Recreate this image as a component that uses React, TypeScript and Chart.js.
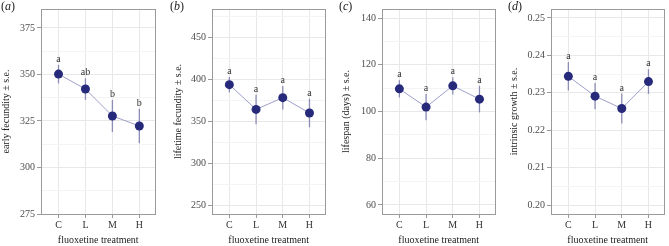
import React, { useEffect, useRef } from 'react';
import { Chart, registerables } from 'chart.js';

Chart.register(...registerables);

const FONT = "'Liberation Serif', 'Times New Roman', serif";

// ---- data ----
const categories = ['C', 'L', 'M', 'H'];

const earlyFecundity = [350.2, 342.2, 327.7, 322.3];
const earlyFecunditySE = [5.0, 5.8, 8.6, 9.3];
const earlyFecundityLetters = ['a', 'ab', 'b', 'b'];
const earlyFecundityTicks = [275, 300, 325, 350, 375];

const lifetimeFecundity = [393.3, 363.8, 377.8, 359.6];
const lifetimeFecunditySE = [9.2, 17.5, 14.0, 17.0];
const lifetimeFecundityLetters = ['a', 'a', 'a', 'a'];
const lifetimeFecundityTicks = [250, 300, 350, 400, 450];

const lifespan = [109.7, 101.9, 111.0, 105.3];
const lifespanSE = [3.7, 5.6, 3.7, 5.7];
const lifespanLetters = ['a', 'a', 'a', 'a'];
const lifespanTicks = [60, 80, 100, 120, 140];

const intrinsicGrowth = [0.2344, 0.2291, 0.2258, 0.2330];
const intrinsicGrowthSE = [0.0038, 0.0035, 0.0040, 0.0033];
const intrinsicGrowthLetters = ['a', 'a', 'a', 'a'];
const intrinsicGrowthTicks = [0.2, 0.21, 0.22, 0.23, 0.24, 0.25];

const xTitle = 'fluoxetine treatment';

type PanelDef = {
  tag: string;
  yTitle: string;
  values: number[];
  se: number[];
  letters: string[];
  ticks: number[];
  decimals: number;
  yMin: number;
  yMax: number;
  left: number;
  width: number;
  axisWidth: number;
  titlePad: number;
  tagLeft: number;
};

const panels: PanelDef[] = [
  {
    tag: 'a', yTitle: 'early fecundity ± s.e.', values: earlyFecundity, se: earlyFecunditySE,
    letters: earlyFecundityLetters, ticks: earlyFecundityTicks, decimals: 0,
    yMin: 275, yMax: 385.2, left: 0, width: 160, axisWidth: 41, titlePad: 0, tagLeft: 1,
  },
  {
    tag: 'b', yTitle: 'lifetime fecundity ± s.e.', values: lifetimeFecundity, se: lifetimeFecunditySE,
    letters: lifetimeFecundityLetters, ticks: lifetimeFecundityTicks, decimals: 0,
    yMin: 239.3, yMax: 483.4, left: 165, width: 165, axisWidth: 47, titlePad: 7, tagLeft: 170,
  },
  {
    tag: 'c', yTitle: 'lifespan (days) ± s.e.', values: lifespan, se: lifespanSE,
    letters: lifespanLetters, ticks: lifespanTicks, decimals: 0,
    yMin: 56.1, yMax: 143.9, left: 332, width: 168, axisWidth: 50, titlePad: 8, tagLeft: 339,
  },
  {
    tag: 'd', yTitle: 'intrinsic growth ± s.e.', values: intrinsicGrowth, se: intrinsicGrowthSE,
    letters: intrinsicGrowthLetters, ticks: intrinsicGrowthTicks, decimals: 2,
    yMin: 0.1976, yMax: 0.2524, left: 500, width: 169, axisWidth: 51, titlePad: 8, tagLeft: 508,
  },
];

const POINT = '#272a7b';
const LINE = '#9d9fcb';
const ERR = '#8c8db6';
const FRAME = '#9a9a9a';
const MAJOR = '#e8e8e8';
const MINOR = '#f4f4f4';

function Panel({ p }: { p: PanelDef }) {
  const ref = useRef<HTMLCanvasElement | null>(null);

  useEffect(() => {
    if (!ref.current) return;
    const step = p.ticks[1] - p.ticks[0];
    const minor: number[] = [];
    for (let i = 0; i < p.ticks.length - 1; i++) minor.push((p.ticks[i] + p.ticks[i + 1]) / 2);
    const lastMinor = p.ticks[p.ticks.length - 1] + step / 2;
    if (lastMinor <= p.yMax) minor.push(lastMinor);
    const firstMinor = p.ticks[0] - step / 2;
    if (firstMinor >= p.yMin) minor.unshift(firstMinor);
    const allY = [...p.ticks.map((v) => ({ value: v, major: true })), ...minor.map((v) => ({ value: v, major: false }))]
      .sort((a, b) => a.value - b.value);
    const isMajor = (v: number) => p.ticks.some((t) => Math.abs(t - v) < step * 1e-3);

    const framePlugin = {
      id: 'frame',
      beforeDatasetsDraw(chart: any) {
        const { ctx, chartArea: a, scales } = chart;
        const xs = scales.x;
        const ys = scales.y;
        ctx.save();
        // error bars
        ctx.strokeStyle = ERR;
        ctx.lineWidth = 1.3;
        p.values.forEach((v, i) => {
          const x = xs.getPixelForValue(i + 1);
          ctx.beginPath();
          ctx.moveTo(x, ys.getPixelForValue(v + p.se[i]));
          ctx.lineTo(x, ys.getPixelForValue(v - p.se[i]));
          ctx.stroke();
        });
        // frame
        ctx.strokeStyle = FRAME;
        ctx.lineWidth = 1;
        ctx.strokeRect(Math.round(a.left) + 0.5, Math.round(a.top) + 0.5, Math.round(a.right - a.left) - 1, Math.round(a.bottom - a.top));
        ctx.restore();
      },
      afterDatasetsDraw(chart: any) {
        const { ctx, scales } = chart;
        ctx.save();
        ctx.fillStyle = '#333333';
        ctx.font = `10px ${FONT}`;
        ctx.textAlign = 'center';
        ctx.textBaseline = 'alphabetic';
        p.letters.forEach((t, i) => {
          const x = scales.x.getPixelForValue(i + 1);
          const y = scales.y.getPixelForValue(p.values[i] + p.se[i]) - 3;
          ctx.fillText(t, x, y);
        });
        ctx.restore();
      },
    };

    const chart = new Chart(ref.current, {
      type: 'line',
      data: {
        datasets: [
          {
            data: p.values.map((v, i) => ({ x: i + 1, y: v })),
            borderColor: LINE,
            borderWidth: 1,
            pointRadius: 4.5,
            pointBackgroundColor: POINT,
            pointBorderColor: POINT,
            pointBorderWidth: 0,
            tension: 0,
          },
        ],
      },
      options: {
        animation: false,
        responsive: false,
        events: [],
        layout: { padding: { top: 9, right: 2, left: 0, bottom: 0 } },
        plugins: { legend: { display: false }, tooltip: { enabled: false }, title: { display: false } },
        scales: {
          x: {
            type: 'linear',
            min: 0.35,
            max: 4.6,
            afterBuildTicks: (s: any) => {
              s.ticks = categories.map((_, i) => ({ value: i + 1 }));
            },
            afterFit: (s: any) => {
              s.height = 32;
            },
            ticks: {
              autoSkip: false,
              maxRotation: 0,
              padding: 1,
              color: '#333333',
              font: { family: FONT, size: 10 },
              callback: (v: any) => categories[Math.round(Number(v)) - 1] ?? '',
            },
            grid: { color: MAJOR, tickColor: FRAME, tickLength: 4, lineWidth: 1 },
            border: { display: false },
            title: {
              display: true,
              text: xTitle,
              color: '#222222',
              font: { family: FONT, size: 10 },
              padding: { top: 0, bottom: 0 },
            },
          },
          y: {
            type: 'linear',
            min: p.yMin,
            max: p.yMax,
            afterBuildTicks: (s: any) => {
              s.ticks = allY.map((t) => ({ value: t.value }));
            },
            afterFit: (s: any) => {
              s.width = p.axisWidth;
            },
            ticks: {
              autoSkip: false,
              padding: 2,
              color: '#4d4d4d',
              font: { family: FONT, size: 10 },
              callback: (v: any) => (isMajor(Number(v)) ? Number(v).toFixed(p.decimals) : ''),
            },
            grid: {
              color: (ctx: any) => (ctx.tick && isMajor(ctx.tick.value) ? MAJOR : MINOR),
              tickColor: (ctx: any) => (ctx.tick && isMajor(ctx.tick.value) ? FRAME : 'rgba(0,0,0,0)'),
              tickLength: 4,
              lineWidth: 1,
            },
            border: { display: false },
            title: {
              display: true,
              text: p.yTitle,
              color: '#222222',
              font: { family: FONT, size: 10 },
              padding: { top: p.titlePad, bottom: 0 },
            },
          },
        },
      },
      plugins: [framePlugin],
    } as any);
    return () => chart.destroy();
  }, [p]);

  return (
    <>
      <canvas
        ref={ref}
        width={p.width}
        height={246}
        style={{ position: 'absolute', left: p.left, top: 0, width: p.width, height: 246 }}
      />
      <span
        style={{
          position: 'absolute',
          left: p.tagLeft,
          top: -1,
          fontFamily: FONT,
          fontSize: 12,
          lineHeight: '14px',
          color: '#222',
        }}
      >
        (<i>{p.tag}</i>)
      </span>
    </>
  );
}

export default function App() {
  return (
    <div style={{ position: 'absolute', left: 0, top: 0, width: 669, height: 246, background: '#fff', overflow: 'hidden' }}>
      {panels.map((p) => (
        <Panel key={p.tag} p={p} />
      ))}
    </div>
  );
}
